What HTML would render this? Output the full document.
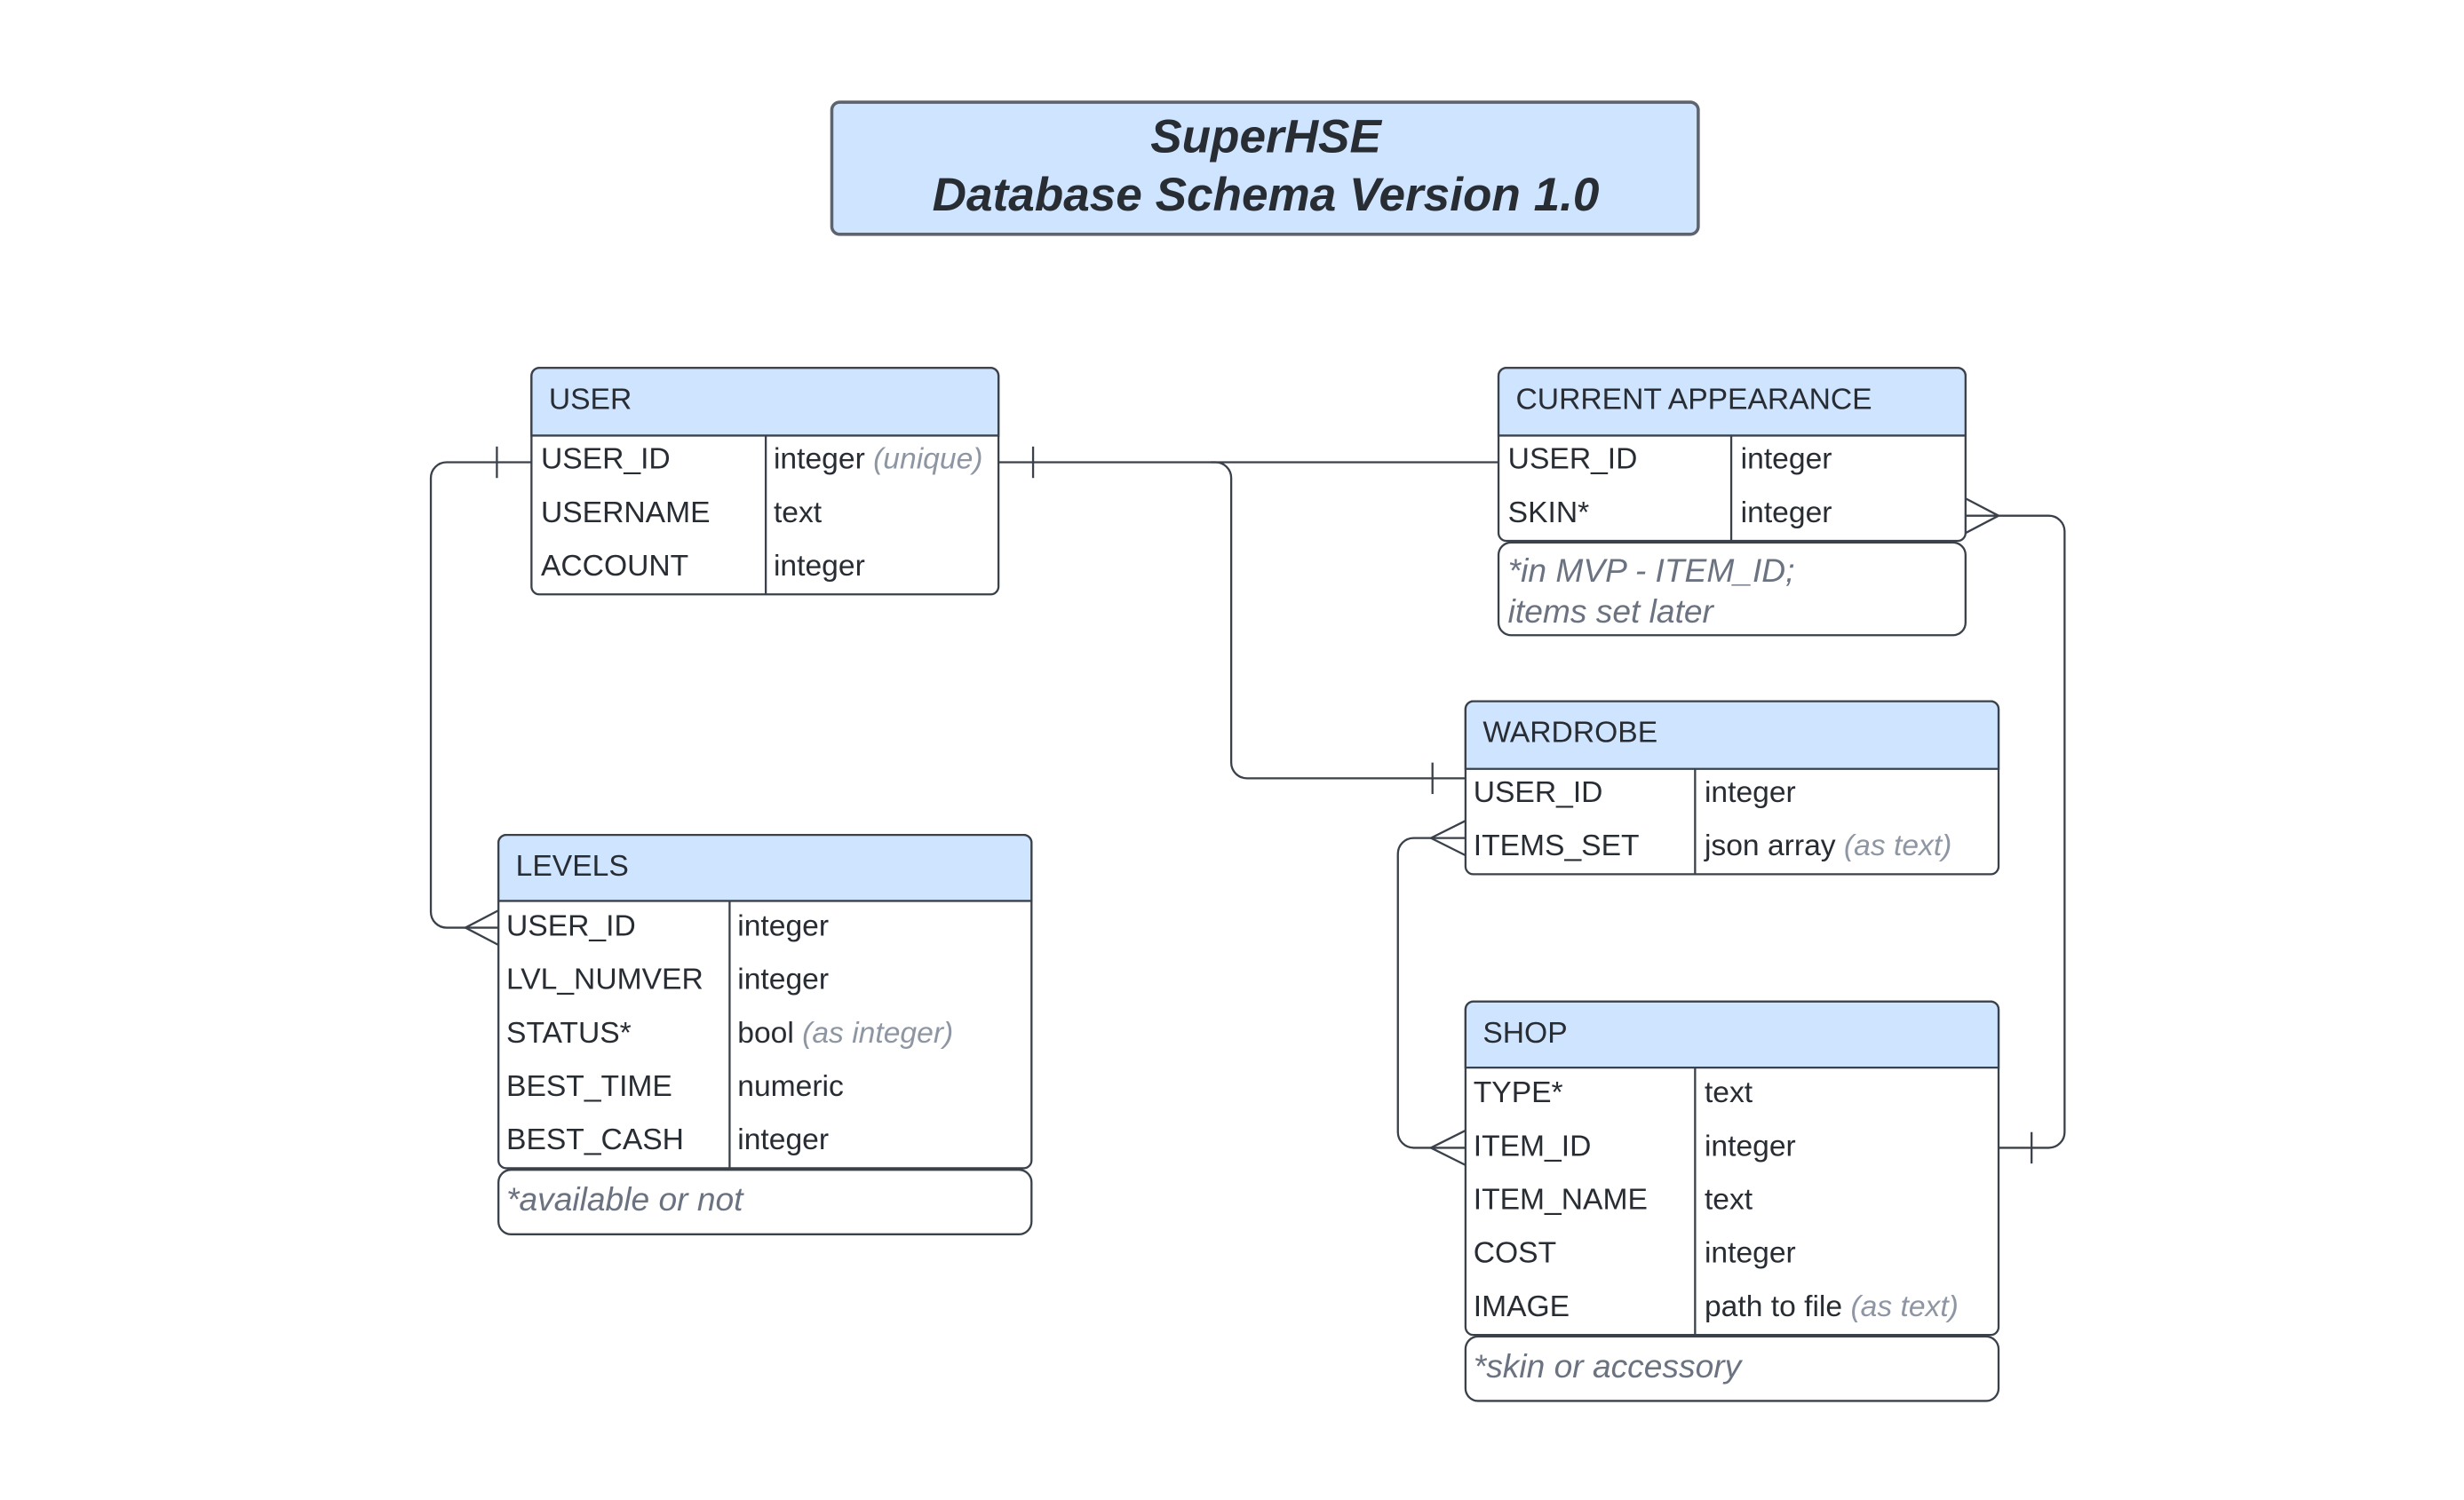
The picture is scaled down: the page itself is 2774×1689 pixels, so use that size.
<!DOCTYPE html>
<html><head><meta charset="utf-8"><style>
html,body{margin:0;padding:0;background:#fff;}
svg{display:block;}
text{font-family:"Liberation Sans",Arial,sans-serif;fill:#282c33;}
.r{font-size:19px;}
.g{fill:#8e96a3;font-style:italic;}
.n{font-size:21px;font-style:italic;fill:#6b7280;}
</style></head><body>
<svg width="2774" height="1689" viewBox="0 0 1567 954" preserveAspectRatio="none" xmlns="http://www.w3.org/2000/svg">
<g fill="none" stroke="#3a414a" stroke-width="1.3">
<rect x="529" y="65" width="551" height="84" rx="5" fill="#cfe4ff" stroke="#5d6470" stroke-width="2"/>
</g>
<text x="805" y="97" text-anchor="middle" font-size="30" font-weight="bold" font-style="italic">SuperHSE</text>
<text x="805" y="134" text-anchor="middle" font-size="30" font-weight="bold" font-style="italic">Database Schema Version 1.0</text>

<g stroke="#3a414a" stroke-width="1.3" fill="none">
<rect x="338" y="234" width="297" height="144" rx="5" fill="#fff"/>
<path d="M338,277 V239 a5,5 0 0 1 5,-5 H630 a5,5 0 0 1 5,5 V277 Z" fill="#cfe4ff"/>
<line x1="487" y1="277" x2="487" y2="378"/>
<rect x="953" y="234" width="297" height="110" rx="5" fill="#fff"/>
<path d="M953,277 V239 a5,5 0 0 1 5,-5 H1245 a5,5 0 0 1 5,5 V277 Z" fill="#cfe4ff"/>
<line x1="1101" y1="277" x2="1101" y2="344"/>
<rect x="953" y="345" width="297" height="59" rx="8" fill="#fff"/>
<rect x="932" y="446" width="339" height="110" rx="5" fill="#fff"/>
<path d="M932,489 V451 a5,5 0 0 1 5,-5 H1266 a5,5 0 0 1 5,5 V489 Z" fill="#cfe4ff"/>
<line x1="1078" y1="489" x2="1078" y2="556"/>
<rect x="317" y="531" width="339" height="212" rx="5" fill="#fff"/>
<path d="M317,573 V536 a5,5 0 0 1 5,-5 H651 a5,5 0 0 1 5,5 V573 Z" fill="#cfe4ff"/>
<line x1="464" y1="573" x2="464" y2="743"/>
<rect x="317" y="744" width="339" height="41" rx="8" fill="#fff"/>
<rect x="932" y="637" width="339" height="212" rx="5" fill="#fff"/>
<path d="M932,679 V642 a5,5 0 0 1 5,-5 H1266 a5,5 0 0 1 5,5 V679 Z" fill="#cfe4ff"/>
<line x1="1078" y1="679" x2="1078" y2="849"/>
<rect x="932" y="850" width="339" height="41" rx="8" fill="#fff"/>

<path d="M338,294 H284 a10,10 0 0 0 -10,10 V580 a10,10 0 0 0 10,10 H317"/>
<line x1="316" y1="284" x2="316" y2="304"/>
<path d="M296,590 L317,579 M296,590 L317,601"/>
<path d="M635,294 H773 a10,10 0 0 1 10,10 V485 a10,10 0 0 0 10,10 H932"/>
<line x1="657" y1="284" x2="657" y2="304"/>
<line x1="911" y1="485" x2="911" y2="505"/>
<line x1="770" y1="294" x2="953" y2="294"/>
<path d="M1250,328 H1303 a10,10 0 0 1 10,10 V720 a10,10 0 0 1 -10,10 H1271"/>
<path d="M1271,328 L1250,317 M1271,328 L1250,339"/>
<line x1="1292" y1="720" x2="1292" y2="740"/>
<path d="M932,533 H899 a10,10 0 0 0 -10,10 V720 a10,10 0 0 0 10,10 H932"/>
<path d="M910,533 L932,522 M910,533 L932,544"/>
<path d="M910,730 L932,719 M910,730 L932,741"/>
</g>

<text class="r" x="349" y="260">USER</text>
<text class="r" x="344" y="298">USER_ID</text><text class="r" x="492" y="298">integer <tspan class="g">(unique)</tspan></text>
<text class="r" x="344" y="332">USERNAME</text><text class="r" x="492" y="332">text</text>
<text class="r" x="344" y="366">ACCOUNT</text><text class="r" x="492" y="366">integer</text>

<text class="r" x="964" y="260">CURRENT APPEARANCE</text>
<text class="r" x="959" y="298">USER_ID</text><text class="r" x="1107" y="298">integer</text>
<text class="r" x="959" y="332">SKIN*</text><text class="r" x="1107" y="332">integer</text>
<text class="n" x="959" y="370">*in MVP - ITEM_ID;</text>
<text class="n" x="959" y="396">items set later</text>

<text class="r" x="943" y="472">WARDROBE</text>
<text class="r" x="937" y="510">USER_ID</text><text class="r" x="1084" y="510">integer</text>
<text class="r" x="937" y="544">ITEMS_SET</text><text class="r" x="1084" y="544">json array <tspan class="g">(as text)</tspan></text>

<text class="r" x="328" y="557">LEVELS</text>
<text class="r" x="322" y="595">USER_ID</text><text class="r" x="469" y="595">integer</text>
<text class="r" x="322" y="629">LVL_NUMVER</text><text class="r" x="469" y="629">integer</text>
<text class="r" x="322" y="663">STATUS*</text><text class="r" x="469" y="663">bool <tspan class="g">(as integer)</tspan></text>
<text class="r" x="322" y="697">BEST_TIME</text><text class="r" x="469" y="697">numeric</text>
<text class="r" x="322" y="731">BEST_CASH</text><text class="r" x="469" y="731">integer</text>
<text class="n" x="322" y="770">*available or not</text>

<text class="r" x="943" y="663">SHOP</text>
<text class="r" x="937" y="701">TYPE*</text><text class="r" x="1084" y="701">text</text>
<text class="r" x="937" y="735">ITEM_ID</text><text class="r" x="1084" y="735">integer</text>
<text class="r" x="937" y="769">ITEM_NAME</text><text class="r" x="1084" y="769">text</text>
<text class="r" x="937" y="803">COST</text><text class="r" x="1084" y="803">integer</text>
<text class="r" x="937" y="837">IMAGE</text><text class="r" x="1084" y="837">path to file <tspan class="g">(as text)</tspan></text>
<text class="n" x="937" y="876">*skin or accessory</text>
</svg>
</body></html>
